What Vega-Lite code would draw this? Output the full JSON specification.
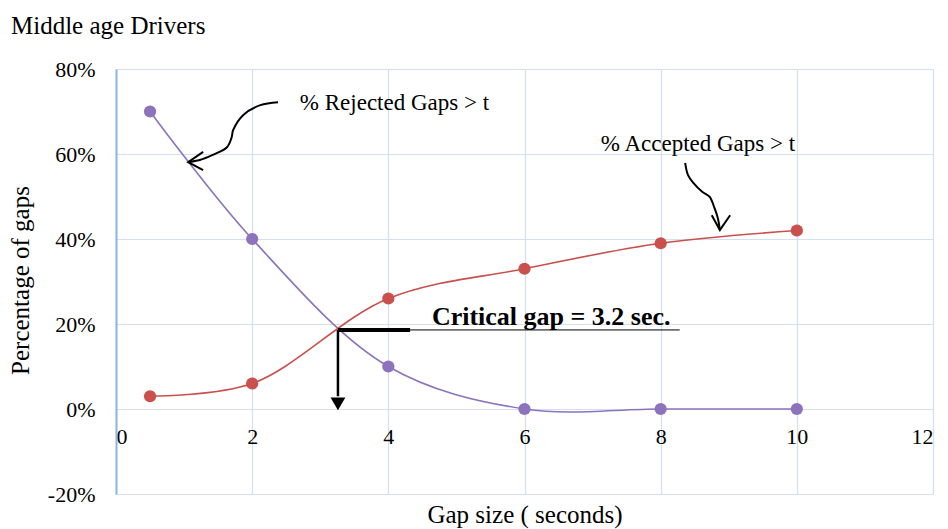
{
  "$schema": "https://vega.github.io/schema/vega-lite/v6.json",
  "width": 817,
  "height": 425,
  "autosize": {"type": "none"},
  "padding": {"left": 116, "top": 69, "right": 15, "bottom": 35},
  "background": "white",
  "title": {
    "text": "Middle age Drivers",
    "anchor": "start",
    "frame": "group",
    "dx": -105,
    "dy": 29,
    "offset": 28,
    "font": "Liberation Serif",
    "fontSize": 25,
    "fontWeight": "normal",
    "color": "#000000",
    "baseline": "alphabetic"
  },
  "config": {
    "view": {"stroke": null},
    "font": "Liberation Serif"
  },
  "datasets": {
    "series": [
      {"x": 0.5, "y": 70, "s": "Rejected"},
      {"x": 2, "y": 40, "s": "Rejected"},
      {"x": 4, "y": 10, "s": "Rejected"},
      {"x": 6, "y": 0, "s": "Rejected"},
      {"x": 8, "y": 0, "s": "Rejected"},
      {"x": 10, "y": 0, "s": "Rejected"},
      {"x": 0.5, "y": 3, "s": "Accepted"},
      {"x": 2, "y": 6, "s": "Accepted"},
      {"x": 4, "y": 26, "s": "Accepted"},
      {"x": 6, "y": 33, "s": "Accepted"},
      {"x": 8, "y": 39, "s": "Accepted"},
      {"x": 10, "y": 42, "s": "Accepted"}
    ],
    "arrows": [
      {"g": "r1", "k": "curve", "i": 0, "x": 2.38, "y": 72.2},
      {"g": "r1", "k": "curve", "i": 1, "x": 2.12, "y": 71.5},
      {"g": "r1", "k": "curve", "i": 2, "x": 1.87, "y": 69.2},
      {"g": "r1", "k": "curve", "i": 3, "x": 1.72, "y": 65.6},
      {"g": "r1", "k": "curve", "i": 4, "x": 1.70, "y": 64.0},
      {"g": "r1", "k": "curve", "i": 5, "x": 1.63, "y": 61.6},
      {"g": "r1", "k": "curve", "i": 6, "x": 1.42, "y": 59.8},
      {"g": "r1", "k": "curve", "i": 7, "x": 1.23, "y": 58.6},
      {"g": "r1", "k": "curve", "i": 8, "x": 1.06, "y": 58.1},
      {"g": "r2", "k": "head", "i": 0, "x": 1.28, "y": 60.5},
      {"g": "r2", "k": "head", "i": 1, "x": 1.06, "y": 58.1},
      {"g": "r2", "k": "head", "i": 2, "x": 1.28, "y": 56.2},
      {"g": "a1", "k": "curve", "i": 0, "x": 8.36, "y": 57.9},
      {"g": "a1", "k": "curve", "i": 1, "x": 8.40, "y": 55.1},
      {"g": "a1", "k": "curve", "i": 2, "x": 8.48, "y": 53.2},
      {"g": "a1", "k": "curve", "i": 3, "x": 8.61, "y": 51.1},
      {"g": "a1", "k": "curve", "i": 4, "x": 8.72, "y": 49.9},
      {"g": "a1", "k": "curve", "i": 5, "x": 8.79, "y": 47.3},
      {"g": "a1", "k": "curve", "i": 6, "x": 8.84, "y": 44.9},
      {"g": "a1", "k": "curve", "i": 7, "x": 8.87, "y": 42.1},
      {"g": "a2", "k": "head", "i": 0, "x": 8.75, "y": 45.6},
      {"g": "a2", "k": "head", "i": 1, "x": 8.87, "y": 42.1},
      {"g": "a2", "k": "head", "i": 2, "x": 9.02, "y": 45.6}
    ],
    "rules": [
      {"x": 3.26, "x2": 4.32, "y": 18.6, "y2": 18.6, "w": 3},
      {"x": 4.32, "x2": 8.28, "y": 18.6, "y2": 18.6, "w": 2},
      {"x": 3.26, "x2": 3.26, "y": 18.6, "y2": 3.0, "w": 2.5}
    ],
    "labels": [
      {"x": 2.70, "y": 70.4, "t": "% Rejected Gaps > t"},
      {"x": 7.12, "y": 60.7, "t": "% Accepted Gaps > t"}
    ],
    "critical": [
      {"x": 4.64, "y": 19.8, "t": "Critical gap = 3.2 sec."}
    ]
  },
  "layer": [
    {
      "data": {"name": "series"},
      "mark": {"type": "line", "interpolate": "catmull-rom", "strokeWidth": 1.6},
      "encoding": {
        "x": {
          "field": "x", "type": "quantitative",
          "scale": {"domain": [0, 12], "nice": false},
          "axis": {
            "values": [0, 2, 4, 6, 8, 10, 12],
            "format": "d",
            "offset": -85,
            "grid": true,
            "gridColor": "#D3E0F3",
            "gridWidth": 1.2,
            "domain": false,
            "ticks": false,
            "labelPadding": 17,
            "labelFont": "Liberation Serif",
            "labelFontSize": 22,
            "labelColor": "#000000",
            "title": "Gap size ( seconds)",
            "titleFont": "Liberation Serif",
            "titleFontSize": 25,
            "titleFontWeight": "normal",
            "titleColor": "#000000",
            "titleBaseline": "alphabetic",
            "titleY": 113
          }
        },
        "y": {
          "field": "y", "type": "quantitative",
          "scale": {"domain": [-20, 80], "nice": false},
          "axis": {
            "values": [-20, 0, 20, 40, 60, 80],
            "labelExpr": "datum.value + '%'",
            "grid": true,
            "gridColor": "#D3E0F3",
            "gridWidth": 1.2,
            "domain": true,
            "domainColor": "#8DB3E2",
            "domainWidth": 2,
            "ticks": false,
            "labelPadding": 21,
            "labelFont": "Liberation Serif",
            "labelFontSize": 22,
            "labelColor": "#000000",
            "title": "Percentage of gaps",
            "titleFont": "Liberation Serif",
            "titleFontSize": 25,
            "titleFontWeight": "normal",
            "titleColor": "#000000",
            "titleAngle": -90,
            "titleBaseline": "alphabetic",
            "titleX": -88,
            "titleY": 211
          }
        },
        "color": {
          "field": "s", "type": "nominal",
          "scale": {"domain": ["Rejected", "Accepted"], "range": ["#8C73BC", "#C9504C"]},
          "legend": null
        }
      }
    },
    {
      "data": {"name": "series"},
      "mark": {"type": "point", "filled": true, "size": 150, "opacity": 1},
      "encoding": {
        "x": {"field": "x", "type": "quantitative"},
        "y": {"field": "y", "type": "quantitative"},
        "color": {
          "field": "s", "type": "nominal",
          "scale": {"domain": ["Rejected", "Accepted"], "range": ["#7A4FAF", "#D2322E"]},
          "legend": null
        }
      }
    },
    {
      "data": {"name": "arrows"},
      "transform": [{"filter": "datum.k == 'curve'"}],
      "mark": {"type": "line", "interpolate": "catmull-rom", "color": "#000000", "strokeWidth": 2},
      "encoding": {
        "x": {"field": "x", "type": "quantitative"},
        "y": {"field": "y", "type": "quantitative"},
        "detail": {"field": "g"},
        "order": {"field": "i"}
      }
    },
    {
      "data": {"name": "arrows"},
      "transform": [{"filter": "datum.k == 'head'"}],
      "mark": {"type": "line", "interpolate": "linear", "color": "#000000", "strokeWidth": 2},
      "encoding": {
        "x": {"field": "x", "type": "quantitative"},
        "y": {"field": "y", "type": "quantitative"},
        "detail": {"field": "g"},
        "order": {"field": "i"}
      }
    },
    {
      "data": {"name": "rules"},
      "mark": {"type": "rule", "color": "#000000"},
      "encoding": {
        "x": {"field": "x", "type": "quantitative"},
        "x2": {"field": "x2"},
        "y": {"field": "y", "type": "quantitative"},
        "y2": {"field": "y2"},
        "strokeWidth": {"field": "w", "type": "quantitative", "scale": {"type": "identity"}, "legend": null}
      }
    },
    {
      "data": {"values": [{"x": 3.26, "y": 1.2}]},
      "mark": {"type": "point", "shape": "triangle-down", "filled": true, "size": 220, "color": "#000000", "opacity": 1},
      "encoding": {
        "x": {"field": "x", "type": "quantitative"},
        "y": {"field": "y", "type": "quantitative"}
      }
    },
    {
      "data": {"name": "labels"},
      "mark": {"type": "text", "align": "left", "baseline": "alphabetic", "font": "Liberation Serif", "fontSize": 23, "fontWeight": "normal", "color": "#000000"},
      "encoding": {
        "x": {"field": "x", "type": "quantitative"},
        "y": {"field": "y", "type": "quantitative"},
        "text": {"field": "t"}
      }
    },
    {
      "data": {"name": "critical"},
      "mark": {"type": "text", "align": "left", "baseline": "alphabetic", "font": "Liberation Serif", "fontSize": 26, "fontWeight": "bold", "color": "#000000"},
      "encoding": {
        "x": {"field": "x", "type": "quantitative"},
        "y": {"field": "y", "type": "quantitative"},
        "text": {"field": "t"}
      }
    }
  ]
}
